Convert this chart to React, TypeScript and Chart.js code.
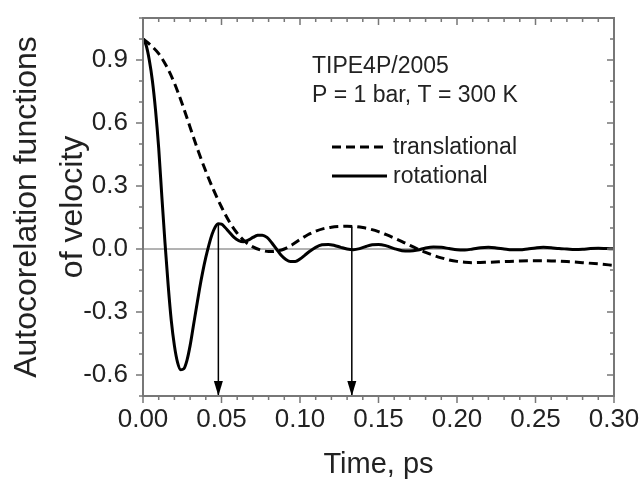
import React, { useEffect, useRef } from 'react';
import { Chart, registerables } from 'chart.js';

Chart.register(...registerables);

// ---- data ----
const transTime = [0, 0.005, 0.01, 0.015, 0.02, 0.025, 0.03, 0.035, 0.04, 0.045, 0.05, 0.055, 0.06, 0.065, 0.07, 0.075, 0.08, 0.085, 0.09, 0.095, 0.1, 0.105, 0.11, 0.115, 0.12, 0.125, 0.13, 0.135, 0.14, 0.145, 0.15, 0.155, 0.16, 0.165, 0.17, 0.175, 0.18, 0.185, 0.19, 0.195, 0.2, 0.205, 0.21, 0.22, 0.23, 0.24, 0.25, 0.26, 0.27, 0.28, 0.29, 0.3];
const transValues = [1.0, 0.97, 0.93, 0.87, 0.79, 0.69, 0.58, 0.47, 0.37, 0.28, 0.2, 0.13, 0.075, 0.035, 0.01, -0.005, -0.012, -0.01, 0.0, 0.02, 0.045, 0.068, 0.085, 0.097, 0.104, 0.107, 0.108, 0.107, 0.102, 0.094, 0.083, 0.068, 0.052, 0.035, 0.017, 0.0, -0.016, -0.03, -0.042, -0.052, -0.059, -0.063, -0.065, -0.063, -0.06, -0.057, -0.056, -0.057, -0.06, -0.065, -0.071, -0.078];

const rotTime = [0, 0.002, 0.004, 0.006, 0.008, 0.01, 0.012, 0.014, 0.016, 0.018, 0.02, 0.022, 0.024, 0.026, 0.028, 0.03, 0.032, 0.034, 0.036, 0.038, 0.04, 0.042, 0.044, 0.046, 0.048, 0.05, 0.052, 0.055, 0.058, 0.061, 0.064, 0.067, 0.07, 0.073, 0.076, 0.079, 0.082, 0.085, 0.088, 0.091, 0.094, 0.097, 0.1, 0.103, 0.106, 0.11, 0.114, 0.118, 0.122, 0.126, 0.13, 0.134, 0.138, 0.142, 0.146, 0.15, 0.155, 0.16, 0.165, 0.17, 0.175, 0.18, 0.185, 0.19, 0.195, 0.2, 0.205, 0.21, 0.215, 0.22, 0.225, 0.23, 0.235, 0.24, 0.245, 0.25, 0.255, 0.26, 0.265, 0.27, 0.275, 0.28, 0.285, 0.29, 0.295, 0.3];
const rotValues = [1.0, 0.97, 0.9, 0.8, 0.66, 0.48, 0.25, 0.03, -0.17, -0.34, -0.46, -0.54, -0.575, -0.57, -0.53, -0.46, -0.37, -0.28, -0.19, -0.11, -0.04, 0.02, 0.07, 0.105, 0.12, 0.118, 0.105, 0.08, 0.055, 0.04, 0.035, 0.042, 0.055, 0.065, 0.066, 0.055, 0.03, 0.0, -0.03, -0.05, -0.06, -0.06, -0.048, -0.03, -0.012, 0.008, 0.02, 0.022, 0.017, 0.008, 0.0, -0.003, 0.002, 0.012, 0.02, 0.022, 0.015, 0.002, -0.008, -0.01, -0.005, 0.005, 0.01, 0.008, 0.002, -0.004, -0.005, 0.0, 0.006, 0.008, 0.005, 0.0, -0.004, -0.004, 0.0, 0.005, 0.008, 0.006, 0.002, 0.0, -0.002, -0.001, 0.002, 0.003, 0.002, 0.001];

const arrowX = [0.048, 0.133];
const arrowTop = [0.12, 0.107];

const xMajorTicks = [0, 0.05, 0.1, 0.15, 0.2, 0.25, 0.3];
const yMajorTicks = [-0.6, -0.3, 0.0, 0.3, 0.6, 0.9];

const seriesLabels = ['translational', 'rotational'];
const annotationLines = ['TIPE4P/2005', 'P = 1 bar, T = 300 K'];
const xTitle = 'Time, ps';
const yTitle = ['Autocorelation functions', 'of velocity'];

const FONT = "'Liberation Sans', Arial, sans-serif";
const TEXT = '#222';
const FRAME = '#777';

const decorPlugin = {
  id: 'decor',
  beforeDatasetsDraw(chart: any) {
    const { ctx, chartArea: a, scales } = chart;
    const y0 = scales.y.getPixelForValue(0);
    ctx.save();
    ctx.strokeStyle = '#666';
    ctx.lineWidth = 1;
    ctx.beginPath();
    ctx.moveTo(a.left, y0);
    ctx.lineTo(a.right, y0);
    ctx.stroke();
    ctx.restore();
  },
  afterDatasetsDraw(chart: any) {
    const { ctx } = chart;
    chart.data.datasets.forEach((ds: any, i: number) => {
      if (!ds.isArrow) return;
      const meta = chart.getDatasetMeta(i);
      const pt = meta.data[meta.data.length - 1];
      if (!pt) return;
      ctx.save();
      ctx.fillStyle = '#000';
      ctx.beginPath();
      ctx.moveTo(pt.x, pt.y);
      ctx.lineTo(pt.x - 4.5, pt.y - 15);
      ctx.lineTo(pt.x + 4.5, pt.y - 15);
      ctx.closePath();
      ctx.fill();
      ctx.restore();
    });
  },
  afterDraw(chart: any) {
    const { ctx, chartArea: a, scales } = chart;
    const xs = scales.x;
    const ys = scales.y;
    ctx.save();
    // frame
    ctx.strokeStyle = FRAME;
    ctx.lineWidth = 2;
    ctx.strokeRect(a.left, a.top, a.right - a.left, a.bottom - a.top);
    // x ticks (every 0.01, major every 0.05)
    ctx.lineWidth = 1.5;
    for (let i = 0; i <= 30; i++) {
      const px = xs.getPixelForValue(i / 100);
      const len = i % 5 === 0 ? 7 : 4;
      ctx.beginPath();
      ctx.moveTo(px, a.bottom);
      ctx.lineTo(px, a.bottom + len);
      ctx.moveTo(px, a.top);
      ctx.lineTo(px, a.top + len);
      ctx.stroke();
    }
    // y ticks (every 0.1, major every 0.3)
    for (let i = -7; i <= 11; i++) {
      const py = ys.getPixelForValue(i / 10);
      const len = i % 3 === 0 ? 7 : 4;
      ctx.beginPath();
      ctx.moveTo(a.left - len, py);
      ctx.lineTo(a.left, py);
      ctx.moveTo(a.right - len, py);
      ctx.lineTo(a.right, py);
      ctx.stroke();
    }
    // annotation text
    ctx.fillStyle = TEXT;
    ctx.font = `23px ${FONT}`;
    ctx.textAlign = 'left';
    ctx.textBaseline = 'alphabetic';
    const tx = a.left + 169;
    ctx.fillText(annotationLines[0], tx, a.top + 55);
    ctx.fillText(annotationLines[1], tx, a.top + 84);
    // legend
    const lx0 = a.left + 189;
    const lx1 = a.left + 244;
    const rows = [a.top + 129, a.top + 158];
    let r = 0;
    chart.data.datasets.forEach((ds: any) => {
      if (ds.isArrow) return;
      const yy = rows[r++];
      ctx.strokeStyle = ds.borderColor;
      ctx.lineWidth = ds.borderWidth;
      ctx.setLineDash(ds.borderDash || []);
      ctx.beginPath();
      ctx.moveTo(lx0, yy);
      ctx.lineTo(lx1, yy);
      ctx.stroke();
      ctx.setLineDash([]);
      ctx.fillStyle = TEXT;
      ctx.textBaseline = 'middle';
      ctx.fillText(ds.label, lx1 + 6, yy + 1);
    });
    ctx.restore();
  },
};

export default function App() {
  const ref = useRef<HTMLCanvasElement | null>(null);

  useEffect(() => {
    if (!ref.current) return;
    const arrowSets = arrowX.map((x, i) => ({
      label: 'arrow' + i,
      isArrow: true,
      data: [
        { x, y: arrowTop[i] },
        { x, y: -0.7 },
      ],
      borderColor: '#000',
      borderWidth: 1.5,
      pointRadius: 0,
      tension: 0,
    }));
    const chart = new Chart(ref.current, {
      type: 'line',
      data: {
        datasets: [
          {
            label: seriesLabels[0],
            data: transTime.map((t, i) => ({ x: t, y: transValues[i] })),
            borderColor: '#000',
            borderWidth: 3,
            borderDash: [9, 5],
            pointRadius: 0,
            cubicInterpolationMode: 'monotone',
          } as any,
          {
            label: seriesLabels[1],
            data: rotTime.map((t, i) => ({ x: t, y: rotValues[i] })),
            borderColor: '#000',
            borderWidth: 3,
            pointRadius: 0,
            cubicInterpolationMode: 'monotone',
          } as any,
          ...(arrowSets as any[]),
        ],
      },
      options: {
        animation: false,
        responsive: false,
        layout: { padding: { left: 0, right: 30, top: 18, bottom: 0 } },
        plugins: { legend: { display: false }, tooltip: { enabled: false } },
        scales: {
          x: {
            type: 'linear',
            min: 0,
            max: 0.3,
            afterBuildTicks: (s: any) => {
              s.ticks = xMajorTicks.map((v) => ({ value: v }));
            },
            afterFit: (s: any) => {
              s.height = 86;
              s.paddingLeft = 0;
              s.paddingRight = 0;
            },
            ticks: {
              callback: (v: any) => Number(v).toFixed(2),
              font: { family: FONT, size: 26 },
              color: TEXT,
              padding: 8,
              maxRotation: 0,
              autoSkip: false,
            },
            grid: { display: false, drawTicks: false },
            border: { display: false },
            title: {
              display: true,
              text: xTitle,
              font: { family: FONT, size: 29, lineHeight: 1.2 },
              color: TEXT,
              padding: { top: 0, bottom: 0 },
            },
          },
          y: {
            type: 'linear',
            min: -0.7,
            max: 1.1,
            afterBuildTicks: (s: any) => {
              s.ticks = yMajorTicks.map((v) => ({ value: v }));
            },
            afterFit: (s: any) => {
              s.width = 143;
              s.paddingTop = 0;
              s.paddingBottom = 0;
            },
            ticks: {
              callback: (v: any) => Number(v).toFixed(1),
              font: { family: FONT, size: 26 },
              color: TEXT,
              padding: 15,
              autoSkip: false,
            },
            grid: { display: false, drawTicks: false },
            border: { display: false },
            title: {
              display: true,
              text: yTitle,
              font: { family: FONT, size: 32, lineHeight: 1.44 },
              color: TEXT,
              padding: { top: 4, bottom: 0 },
            },
          },
        },
      } as any,
      plugins: [decorPlugin],
    });
    return () => chart.destroy();
  }, []);

  return (
    <div style={{ position: 'fixed', left: 0, top: 0, width: 644, height: 482, background: '#fff' }}>
      <canvas ref={ref} width={644} height={482} style={{ width: 644, height: 482 }} />
    </div>
  );
}
